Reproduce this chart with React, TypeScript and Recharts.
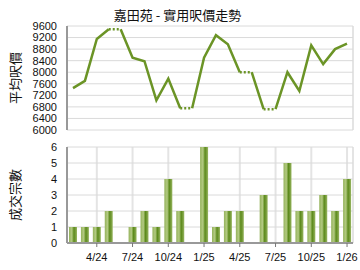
import {
  LineChart,
  Line,
  BarChart,
  Bar,
  XAxis,
  YAxis,
  CartesianGrid,
} from 'recharts';

// monthly categories, Feb 2024 .. Jan 2026
const months = [
  '2/24', '3/24', '4/24', '5/24', '6/24', '7/24', '8/24', '9/24', '10/24', '11/24', '12/24',
  '1/25', '2/25', '3/25', '4/25', '5/25', '6/25', '7/25', '8/25', '9/25', '10/25', '11/25', '12/25',
  '1/26',
];

// average price per sq ft (months with no deals carry the previous value)
const avgPrice = [
  7450, 7700, 9150, 9490, 9490, 8500, 8380, 7030, 7780, 6750, 6750,
  8500, 9280, 8970, 8000, 8000, 6720, 6720, 8000, 7350, 8930, 8280, 8800,
  8990,
];

// number of transactions
const dealCount = [
  1, 1, 1, 2, 0, 1, 2, 1, 4, 2, 0,
  6, 1, 2, 2, 0, 3, 0, 5, 2, 2, 3, 2,
  4,
];

const monthTicks = ['4/24', '7/24', '10/24', '1/25', '4/25', '7/25', '10/25', '1/26'];
const priceTicks = [6000, 6400, 6800, 7200, 7600, 8000, 8400, 8800, 9200, 9600];
const countTicks = [0, 1, 2, 3, 4, 5, 6];

const TITLE = '嘉田苑 - 實用呎價走勢';
const PRICE_LABEL = '平均呎價';
const COUNT_LABEL = '成交宗數';

const LINE_COLOR = '#6b9426';
const GRID = '#dadada';
const AXIS = '#999';
const FONT = '"Liberation Sans", Arial, sans-serif';
const CJK = '"Noto Sans CJK TC", sans-serif';

// split the line into solid runs and dotted "no deal" segments
type Row = { month: string; count: number; s0: number | null; s1: number | null; d0: number | null; d1: number | null };
const rows: Row[] = months.map((m, i) => ({ month: m, count: dealCount[i], s0: null, s1: null, d0: null, d1: null }));
let runKey = 0;
let dotIdx = 0;
rows[0].s0 = avgPrice[0];
for (let i = 1; i < months.length; i++) {
  if (dealCount[i] === 0) {
    const k = dotIdx % 2 === 0 ? 'd0' : 'd1';
    rows[i - 1][k] = avgPrice[i - 1];
    rows[i][k] = avgPrice[i];
    dotIdx++;
    runKey = 1 - runKey;
  }
  rows[i][runKey === 0 ? 's0' : 's1'] = avgPrice[i];
}

const sideLabel = (text: string) => (props: any) => {
  const vb = props.viewBox;
  const x = vb.x + 7;
  const y = vb.y + vb.height / 2;
  return (
    <text
      x={x}
      y={y}
      transform={`rotate(-90 ${x} ${y})`}
      textAnchor="middle"
      dominantBaseline="central"
      fontFamily={CJK}
      fontSize={13}
      fill="#111"
    >
      {text}
    </text>
  );
};

const tickStyle = { fontSize: 11, fontFamily: FONT, fill: '#111' };

export default function App() {
  return (
    <div style={{ position: 'absolute', left: 0, top: 0, width: 360, height: 270, background: '#fff' }}>
      <div
        style={{
          position: 'absolute',
          top: 8,
          left: 0,
          width: 355,
          textAlign: 'center',
          fontFamily: CJK,
          fontSize: 13,
          lineHeight: '14px',
          color: '#111',
        }}
      >
        {TITLE}
      </div>
      <div style={{ position: 'absolute', top: 0, left: 0 }}>
        <LineChart width={360} height={140} data={rows} margin={{ top: 26, right: 7, bottom: 10, left: 7 }}>
          <CartesianGrid horizontal={false} stroke="#e4e4e4" strokeWidth={2} />
          <CartesianGrid vertical={false} stroke={GRID} />
          <XAxis
            dataKey="month"
            ticks={monthTicks}
            interval={0}
            tick={false}
            tickLine={false}
            height={0}
            padding={{ left: 6, right: 6 }}
            axisLine={{ stroke: AXIS, strokeWidth: 2 }}
          />
          <YAxis
            domain={[6000, 9600]}
            ticks={priceTicks}
            interval={0}
            width={60}
            tickLine={false}
            tickSize={0}
            tickMargin={10}
            tick={tickStyle}
            axisLine={{ stroke: AXIS, strokeWidth: 2 }}
            label={{ content: sideLabel(PRICE_LABEL) }}
          />
          <Line dataKey="s0" stroke={LINE_COLOR} strokeWidth={2.5} dot={false} isAnimationActive={false} />
          <Line dataKey="s1" stroke={LINE_COLOR} strokeWidth={2.5} dot={false} isAnimationActive={false} />
          <Line dataKey="d0" stroke={LINE_COLOR} strokeWidth={2.5} strokeDasharray="2 2" dot={false} isAnimationActive={false} />
          <Line dataKey="d1" stroke={LINE_COLOR} strokeWidth={2.5} strokeDasharray="2 2" dot={false} isAnimationActive={false} />
        </LineChart>
      </div>
      <div style={{ position: 'absolute', top: 132, left: 0 }}>
        <BarChart width={360} height={138} data={rows} margin={{ top: 15, right: 7, bottom: 5, left: 7 }}>
          <defs>
            <linearGradient id="barFill" x1="0" y1="0" x2="1" y2="0">
              <stop offset="0%" stopColor="#95b35c" />
              <stop offset="35%" stopColor="#b3ca82" />
              <stop offset="62%" stopColor="#5c8a1c" />
              <stop offset="85%" stopColor="#7ea243" />
              <stop offset="100%" stopColor="#9bb866" />
            </linearGradient>
          </defs>
          <CartesianGrid horizontal={false} stroke="#e4e4e4" strokeWidth={2} />
          <CartesianGrid vertical={false} stroke={GRID} />
          <XAxis
            dataKey="month"
            ticks={monthTicks}
            interval={0}
            height={22}
            tickSize={4}
            tickMargin={6}
            tick={tickStyle}
            tickLine={{ stroke: '#777' }}
            axisLine={{ stroke: AXIS, strokeWidth: 2 }}
          />
          <YAxis
            domain={[0, 6]}
            ticks={countTicks}
            interval={0}
            width={60}
            tickLine={false}
            tickSize={0}
            tickMargin={10}
            tick={tickStyle}
            axisLine={{ stroke: AXIS, strokeWidth: 2 }}
            label={{ content: sideLabel(COUNT_LABEL) }}
          />
          <Bar dataKey="count" fill="url(#barFill)" barSize={8} isAnimationActive={false} />
        </BarChart>
      </div>
    </div>
  );
}
